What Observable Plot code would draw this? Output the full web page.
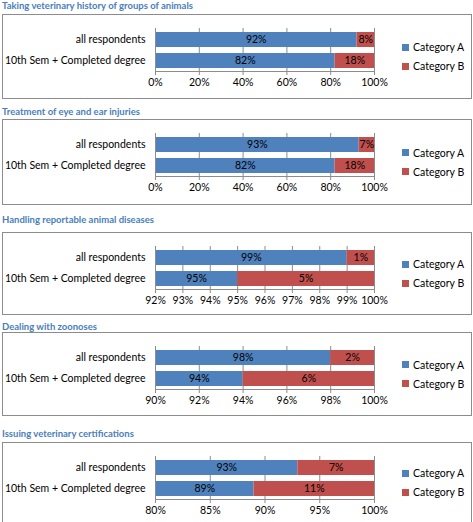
<!DOCTYPE html>
<html><head><meta charset="utf-8">
<script src="https://cdn.jsdelivr.net/npm/d3@7"></script>
<script src="https://cdn.jsdelivr.net/npm/@observablehq/plot@0.6"></script>
<style>
body{margin:0;background:#fff;font-family:Lato,"Liberation Sans",sans-serif;}
.title{position:absolute;left:2px;font-weight:bold;font-size:9.5px;color:#4A7EBB;white-space:nowrap;}
.box{position:absolute;left:2px;width:468px;border:1px solid #8c8c8c;background:#fff;}
.box svg{position:absolute;left:0;top:0;}
.legend{position:absolute;left:399px;font-size:10.5px;color:#000;}
.legend div{display:flex;align-items:center;height:19px;}
.legend span.sw{display:inline-block;width:7px;height:7px;margin-right:4px;}
</style></head>
<body>
<div id="root"></div>
<script>
const groups = ["all respondents", "10th Sem + Completed degree"];
const titles = [
  "Taking veterinary history of groups of animals",
  "Treatment of eye and ear injuries",
  "Handling reportable animal diseases",
  "Dealing with zoonoses",
  "Issuing veterinary certifications"
];
const seriesNames = ["Category A", "Category B"];
const valuesA = [[0.92, 0.82], [0.93, 0.82], [0.99, 0.95], [0.98, 0.94], [0.93, 0.89]];
const valuesB = [[0.08, 0.18], [0.07, 0.18], [0.01, 0.05], [0.02, 0.06], [0.07, 0.11]];
const xMin = [0, 0, 0.92, 0.90, 0.80];
const xTicks = [
  [0, 0.2, 0.4, 0.6, 0.8, 1],
  [0, 0.2, 0.4, 0.6, 0.8, 1],
  [0.92, 0.93, 0.94, 0.95, 0.96, 0.97, 0.98, 0.99, 1],
  [0.90, 0.92, 0.94, 0.96, 0.98, 1],
  [0.80, 0.85, 0.90, 0.95, 1]
];
const colors = ["#4F81BD", "#C0504D"];

// layout (not data)
const titleTops = [0, 106, 214, 321, 428];
const boxTops = [14, 119, 232, 332, 442];
const boxHeights = [83, 84, 81, 82, 79];

const pct = v => Math.round(v * 100) + "%";
const root = document.getElementById("root");

titles.forEach((t, p) => {
  const title = document.createElement("div");
  title.className = "title";
  title.style.top = titleTops[p] + "px";
  title.textContent = t;
  root.appendChild(title);

  const box = document.createElement("div");
  box.className = "box";
  box.style.top = boxTops[p] + "px";
  box.style.height = boxHeights[p] + "px";
  root.appendChild(box);

  const rows = groups.map((g, i) => ({group: g, A: valuesA[p][i], B: valuesB[p][i]}));
  const lo = xMin[p];
  const H = boxHeights[p];
  const chart = Plot.plot({
    width: 395,
    height: H,
    marginLeft: 152,
    marginRight: 24,
    marginTop: 13,
    marginBottom: H - 13 - 43,
    style: {fontFamily: "Lato, 'Liberation Sans', sans-serif", fontSize: "10px", color: "#000", background: "transparent"},
    x: {domain: [lo, 1], ticks: xTicks[p], tickFormat: pct, label: null},
    y: {domain: groups, paddingInner: 0.3, paddingOuter: 0.15, label: null},
    marks: [
      Plot.gridX(xTicks[p], {stroke: "#8c8c8c", strokeOpacity: 1}),
      Plot.barX(rows, {y: "group", x1: () => lo, x2: "A", fill: colors[0]}),
      Plot.barX(rows, {y: "group", x1: "A", x2: d => Math.min(1, d.A + d.B), fill: colors[1]}),
      Plot.text(rows, {y: "group", x: d => (lo + d.A) / 2, text: d => pct(d.A), fill: "#000", fontSize: 10.5}),
      Plot.text(rows, {y: "group", x: d => d.A + d.B / 2, text: d => pct(d.B), fill: "#000", fontSize: 10.5}),
      Plot.frame({anchor: "left", stroke: "#8c8c8c", strokeOpacity: 1}),
      Plot.frame({anchor: "bottom", stroke: "#8c8c8c", strokeOpacity: 1}),
      Plot.axisX({ticks: xTicks[p], tickFormat: pct, tickSize: 4, tickPadding: 3, stroke: "#8c8c8c", fontSize: 10.5, label: null}),
      Plot.axisY({tickSize: 0, tickPadding: 10, fontSize: 10.5, label: null})
    ]
  });
  box.appendChild(chart);

  const legend = document.createElement("div");
  legend.className = "legend";
  legend.style.top = (H / 2 - 19) + "px";
  seriesNames.forEach((s, i) => {
    const item = document.createElement("div");
    const sw = document.createElement("span");
    sw.className = "sw";
    sw.style.background = colors[i];
    item.appendChild(sw);
    item.appendChild(document.createTextNode(s));
    legend.appendChild(item);
  });
  box.appendChild(legend);
});
</script>
</body></html>
